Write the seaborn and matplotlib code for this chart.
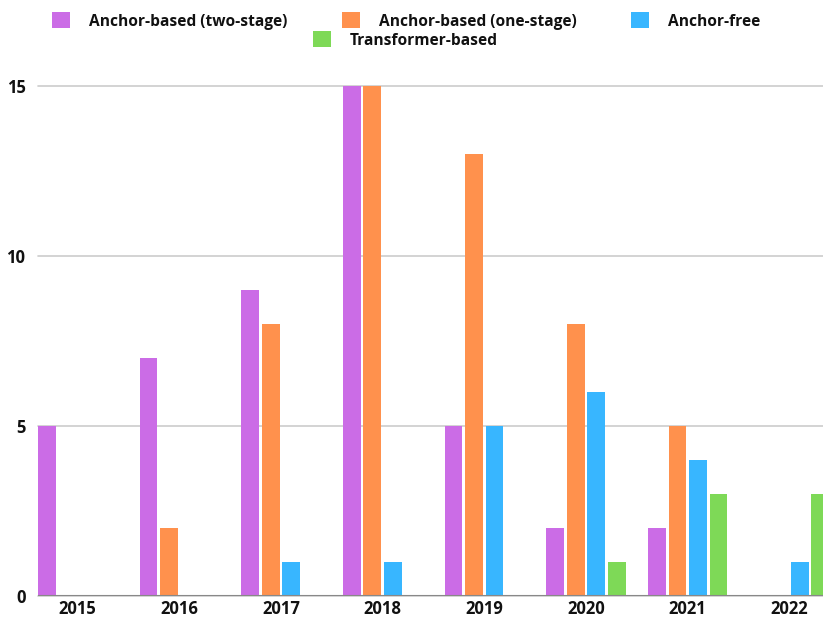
import matplotlib
matplotlib.use("Agg")
import matplotlib.pyplot as plt
import seaborn as sns
import pandas as pd
from matplotlib.patches import Patch

years = ["2015", "2016", "2017", "2018", "2019", "2020", "2021", "2022"]
series = ["Anchor-based (two-stage)", "Anchor-based (one-stage)", "Anchor-free", "Transformer-based"]
two_stage = [5, 7, 9, 15, 5, 2, 2, 0]
one_stage = [0, 2, 8, 15, 13, 8, 5, 0]
anchor_free = [0, 0, 1, 1, 5, 6, 4, 1]
transformer = [0, 0, 0, 0, 0, 1, 3, 3]
colors = ["#CB6CE6", "#FF914D", "#38B6FF", "#7ED957"]

rows = []
for name, vals in zip(series, [two_stage, one_stage, anchor_free, transformer]):
    for y, v in zip(years, vals):
        rows.append({"year": y, "series": name, "count": v})
df = pd.DataFrame(rows)

sns.set_style("white")
plt.rcParams["font.family"] = ["Open Sans", "DejaVu Sans"]
plt.rcParams["font.weight"] = "bold"

W, H = 823, 619
fig = plt.figure(figsize=(W / 100, H / 100), dpi=100)
ax_left = 38 / W
ax_bottom = (H - 596) / H
ax_top = (H - 86) / H
# x: group centre 0 at px 77.5, 101.7 px per group
xl, xr = -0.389, 7.5
ax_right_px = 77.5 + xr * 101.7
ax = fig.add_axes([ax_left, ax_bottom, (ax_right_px - 38) / W, ax_top - ax_bottom])

sns.barplot(data=df, x="year", y="count", hue="series", hue_order=series,
            palette=colors, width=0.81, gap=0.14, ax=ax, legend=False,
            saturation=1, edgecolor="none")

ax.set_xlim(xl, xr)
ax.set_ylim(0, 15)
ax.set_yticks([0, 5, 10, 15])
ax.set_xlabel("")
ax.set_ylabel("")
for s in ax.spines.values():
    s.set_visible(False)
ax.yaxis.grid(True, color="#cccccc", linewidth=1.2)
ax.set_axisbelow(True)
ax.axhline(0, color="#888888", linewidth=1.5, zorder=3)
ax.tick_params(axis="both", length=0, labelsize=12)
ax.tick_params(axis="y", pad=9)
ax.tick_params(axis="x", pad=3)
for lab in ax.get_xticklabels() + ax.get_yticklabels():
    lab.set_fontweight("bold")
    lab.set_color("#111111")
for gl in ax.get_ygridlines():
    gl.set_clip_on(False)

fs = 11.2
handles = [Patch(facecolor=c, edgecolor="none") for c in colors]
legkw = dict(frameon=False, handlelength=1.16, handleheight=1.16,
             handletextpad=1.22, columnspacing=3.5, borderpad=0, borderaxespad=0,
             prop={"weight": "bold", "size": fs})
leg1 = fig.legend(handles[:3], series[:3], ncol=3, loc="center",
                  bbox_to_anchor=(406.5 / W, 1 - 21 / H), **legkw)
leg2 = fig.legend(handles[3:], series[3:], ncol=1, loc="center",
                  bbox_to_anchor=(405.5 / W, 1 - 40 / H), **legkw)
for lg in (leg1, leg2):
    for t in lg.get_texts():
        t.set_color("#111111")

fig.savefig("out.png", dpi=100)
